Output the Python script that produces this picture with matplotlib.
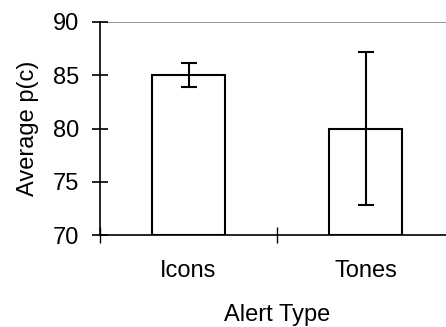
import matplotlib.pyplot as plt

# data
categories = ['Icons', 'Tones']
means = [85.0, 80.0]
errors = [1.15, 7.2]
y_ticks = [70, 75, 80, 85, 90]

plt.rcParams['font.family'] = ['Liberation Sans', 'DejaVu Sans']

fig = plt.figure(figsize=(4.46, 3.27), dpi=100)
# the plot area runs past the right edge of the picture, as in the reference
ax = fig.add_axes([100 / 446, 92 / 327, 354 / 446, 213 / 327])

x = list(range(len(categories)))
ax.bar(x, [m - 70 for m in means], bottom=70, width=0.41, color='white',
       edgecolor='black', linewidth=1.5, zorder=2)
ax.errorbar(x, means, yerr=errors, fmt='none', ecolor='black',
            elinewidth=1.5, capsize=5.5, capthick=1.5, zorder=3)

ax.set_xlim(-0.5, 1.5)
ax.set_ylim(70, 90)
ax.set_yticks(y_ticks)
ax.set_xticks(x)
ax.set_xticklabels(categories)
ax.set_xticks([-0.5, 0.5, 1.5], minor=True)

# gray line at the top value
ax.axhline(90, color='#808080', linewidth=1.2, zorder=1)

for side in ['top', 'right']:
    ax.spines[side].set_visible(False)
ax.spines['left'].set_linewidth(1.2)
ax.spines['bottom'].set_linewidth(1.2)

ax.tick_params(axis='y', direction='inout', length=11.5, width=1.2,
               labelsize=17, pad=9)
ax.tick_params(axis='x', which='major', length=0, labelsize=17, pad=18)
ax.tick_params(axis='x', which='minor', direction='inout', length=11.5,
               width=1)

ax.set_ylabel('Average p(c)', fontsize=17, labelpad=10)
ax.set_xlabel('Alert Type', fontsize=17, labelpad=15.5)

fig.savefig('out.png', dpi=100)
